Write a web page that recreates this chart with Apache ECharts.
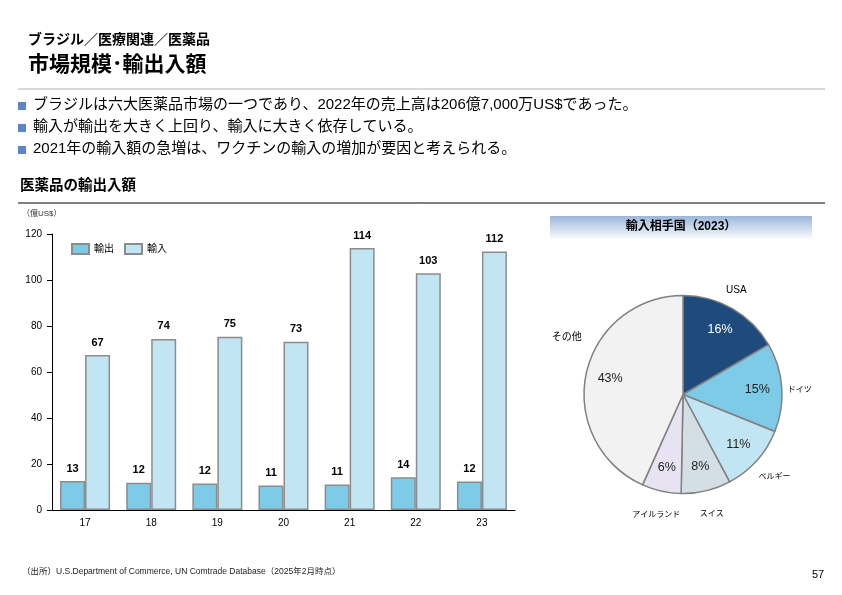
<!DOCTYPE html>
<html>
<head>
<meta charset="utf-8">
<script src="https://cdn.jsdelivr.net/npm/echarts@6/dist/echarts.min.js"></script>
<style>
  html, body { margin: 0; padding: 0; background: #fff; }
  #chart { width: 842px; height: 595px; }
</style>
</head>
<body>
<div id="chart"></div>
<script>
// Data
const years = ['17', '18', '19', '20', '21', '22', '23'];
const exportValues = [12.6, 11.8, 11.5, 10.7, 11.1, 14.2, 12.4];
const importValues = [67.4, 74.4, 75.3, 73.2, 113.9, 102.9, 112.4];
const exportLabels = [13, 12, 12, 11, 11, 14, 12];
const importLabels = [67, 74, 75, 73, 114, 103, 112];
const yTicks = [0, 20, 40, 60, 80, 100, 120];

const partners = ['USA', 'ドイツ', 'ベルギー', 'スイス', 'アイルランド', 'その他'];
const partnerShares = [16.6, 14.5, 11.1, 8.1, 6.4, 43.3];
const partnerLabels = ['16%', '15%', '11%', '8%', '6%', '43%'];
const partnerColors = ['#1f4a7c', '#7ecbe8', '#c2e5f3', '#d3dfe5', '#e7e3f2', '#f2f2f2'];

const bullets = [
  'ブラジルは六大医薬品市場の一つであり、2022年の売上高は206億7,000万US$であった。',
  '輸入が輸出を大きく上回り、輸入に大きく依存している。',
  '2021年の輸入額の急増は、ワクチンの輸入の増加が要因と考えられる。'
];

const FONT = '"Liberation Sans", "Noto Sans CJK JP", sans-serif';
const chart = echarts.init(document.getElementById('chart'));

const graphics = [
  { type: 'text', left: 28, top: 33, style: { text: 'ブラジル／医療関連／医薬品', font: 'bold 14px ' + FONT, fill: '#000' } },
  { type: 'text', left: 28, top: 55, style: { text: '市場規模･輸出入額', font: 'bold 21px ' + FONT, fill: '#000' } },
  { type: 'line', shape: { x1: 18, y1: 89, x2: 825, y2: 89 }, style: { stroke: '#b0b0b0', lineWidth: 1 } },
  { type: 'text', left: 20, top: 179, style: { text: '医薬品の輸出入額', font: 'bold 14.5px ' + FONT, fill: '#000' } },
  { type: 'line', shape: { x1: 18, y1: 203, x2: 825, y2: 203 }, style: { stroke: '#000', lineWidth: 1 } },
  { type: 'text', left: 22, top: 210, style: { text: '（億US$）', font: '8px ' + FONT, fill: '#333' } },
  {
    type: 'rect', shape: { x: 550, y: 216, width: 262, height: 24 },
    style: {
      fill: new echarts.graphic.LinearGradient(0, 0, 0, 1, [
        { offset: 0, color: '#9bb6da' },
        { offset: 1, color: '#ffffff' }
      ])
    }
  },
  { type: 'text', x: 681, y: 221, style: { text: '輸入相手国（2023）', font: 'bold 12px ' + FONT, fill: '#000', align: 'center' } },
  { type: 'text', left: 22, top: 567, style: { text: '（出所）U.S.Department of Commerce, UN Comtrade Database（2025年2月時点）', font: '8.5px ' + FONT, fill: '#222' } },
  { type: 'text', left: 812, top: 569, style: { text: '57', font: '11px ' + FONT, fill: '#000' } }
];
bullets.forEach((t, i) => {
  const y = 99 + i * 22;
  graphics.push({ type: 'rect', shape: { x: 18, y: y + 3, width: 8, height: 8 }, style: { fill: '#5b87c6' } });
  graphics.push({ type: 'text', left: 33, top: y - 2, style: { text: t, font: '15px ' + FONT, fill: '#000' } });
});

const option = {
  animation: false,
  textStyle: { fontFamily: FONT },
  graphic: graphics,
  legend: {
    left: 66, top: 238, icon: 'rect',
    itemWidth: 17, itemHeight: 10, itemGap: 10,
    textStyle: { fontSize: 10, color: '#000' },
    data: ['輸出', '輸入']
  },
  grid: { left: 52, right: 327, top: 234, bottom: 85 },
  xAxis: {
    type: 'category',
    data: years,
    axisLine: { lineStyle: { color: '#000' } },
    axisTick: { length: 5, lineStyle: { color: '#000' } },
    axisLabel: { fontSize: 10, color: '#000', margin: 8 }
  },
  yAxis: {
    type: 'value',
    min: yTicks[0], max: yTicks[yTicks.length - 1], interval: 20,
    axisLine: { show: true, lineStyle: { color: '#000' } },
    axisTick: { show: true, length: 5, lineStyle: { color: '#000' } },
    axisLabel: { fontSize: 10, color: '#000', margin: 10 },
    splitLine: { show: false }
  },
  series: [
    {
      name: '輸出', type: 'bar', data: exportValues,
      barWidth: 25, barGap: '0%',
      itemStyle: { color: '#7ecbe8', borderColor: '#8c8c8c', borderWidth: 1.5 },
      label: { show: true, position: 'top', fontSize: 11, fontWeight: 'bold', color: '#000', distance: 7,
        formatter: p => exportLabels[p.dataIndex] }
    },
    {
      name: '輸入', type: 'bar', data: importValues,
      barWidth: 25,
      itemStyle: { color: '#c2e5f3', borderColor: '#8c8c8c', borderWidth: 1.5 },
      label: { show: true, position: 'top', fontSize: 11, fontWeight: 'bold', color: '#000', distance: 7,
        formatter: p => importLabels[p.dataIndex] }
    },
    {
      type: 'pie', center: [683, 394.5], radius: [0, 99], startAngle: 90, clockwise: true,
      silent: true,
      data: partners.map((n, i) => ({ name: n, value: partnerShares[i], itemStyle: { color: partnerColors[i] } })),
      itemStyle: { borderColor: '#808080', borderWidth: 1.5 },
      label: { show: false }, labelLine: { show: false }
    },
    {
      type: 'pie', center: [683, 394.5], radius: [44, 99], startAngle: 90, clockwise: true,
      silent: true,
      data: partners.map((n, i) => ({ name: n, value: partnerShares[i] })),
      itemStyle: { color: 'rgba(0,0,0,0)' },
      label: {
        show: true, position: 'inside', fontSize: 12.5,
        color: '#222',
        formatter: p => partnerLabels[p.dataIndex]
      },
      labelLine: { show: false }
    },
    {
      type: 'pie', center: [683, 394.5], radius: [100, 140], startAngle: 90, clockwise: true,
      silent: true,
      data: partners.map((n, i) => ({ name: n, value: partnerShares[i] })),
      itemStyle: { color: 'rgba(0,0,0,0)' },
      label: { show: true, position: 'inside', fontSize: 8, color: '#000', formatter: '{b}' },
      labelLine: { show: false }
    }
  ]
};
// USA percentage in white on the dark slice
option.series[3].data[0].label = { color: '#fff' };
option.series[4].data[0].label = { fontSize: 10, offset: [-8, 2] };
option.series[4].data[1].label = { offset: [-6, 4] };
option.series[4].data[5].label = { fontSize: 10, offset: [4, -32] };

chart.setOption(option);
</script>
</body>
</html>
